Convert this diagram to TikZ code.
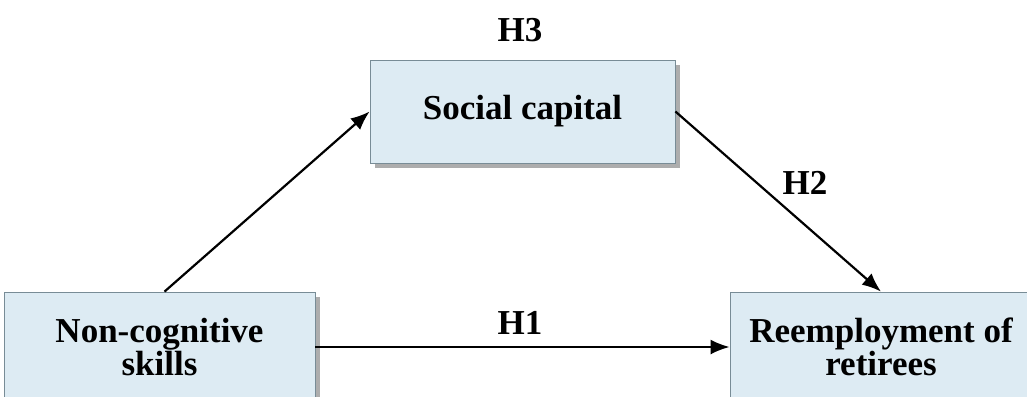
\documentclass[tikz,border=0pt]{standalone}
\usepackage{fontspec}
\setmainfont{Liberation Serif}
\usetikzlibrary{arrows.meta}
\usetikzlibrary{shadows}
\definecolor{boxfill}{RGB}{221,235,243}
\definecolor{boxline}{RGB}{120,140,150}
\tikzstyle{VarNode}=[rectangle, draw=boxline, fill=boxfill, thin, align=center,
  font=\fontsize{17.5}{16.5}\selectfont\bfseries,
  drop shadow={shadow xshift=2.5pt, shadow yshift=-2.5pt, fill=gray!80, opacity=0.8}]
\tikzstyle{HypLabel}=[font=\fontsize{17.5}{16.5}\selectfont\bfseries]
\tikzstyle{PathEdge}=[-{Latex[length=9.5pt,width=7.5pt]}, line width=1.1pt]

\begin{document}
\begin{tikzpicture}[x=0.5pt, y=-0.5pt]
\useasboundingbox (0,0) rectangle (1027,396);
\clip (0,0) rectangle (1027,396);
\node[VarNode, minimum width=152.5pt, minimum height=51.5pt](SOC) at (522.5,111.5) {Social capital};
\node[VarNode, minimum width=155.5pt, minimum height=55pt](NCS) at (159.5,347) {Non-cognitive\\skills};
\node[VarNode, minimum width=151pt, minimum height=55pt](REM) at (881,347) {Reemployment of\\retirees};

\node[HypLabel](H3) at (520,30) {H3};
\node[HypLabel](H2) at (805,183) {H2};
\node[HypLabel](H1) at (520,323) {H1};

\draw[PathEdge]([xshift=2.5pt]NCS.north) -- (SOC.west);
\draw[PathEdge](SOC.east) -- (REM.north);
\draw[PathEdge](NCS) -- (REM);

\end{tikzpicture}
\end{document}
